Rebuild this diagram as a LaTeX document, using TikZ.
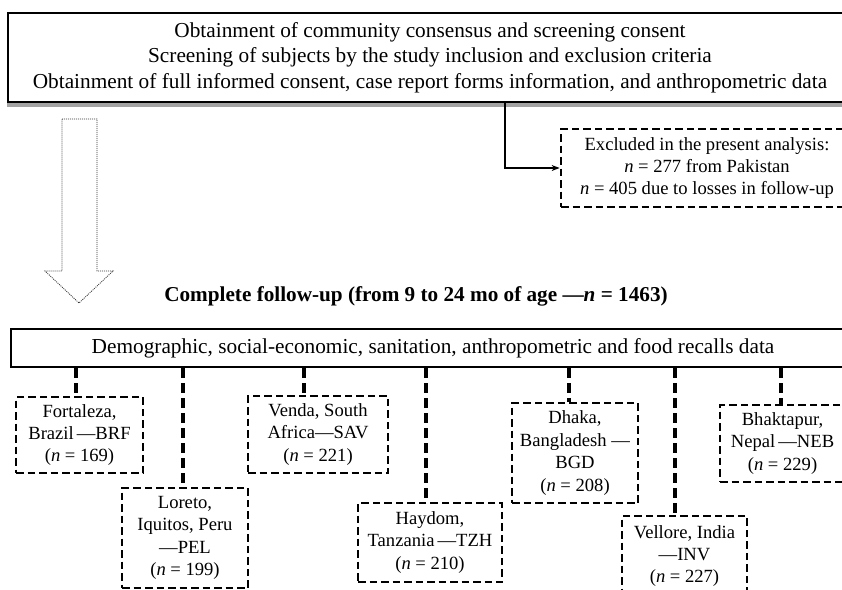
\documentclass[tikz,border=0pt]{standalone}
\usepackage{fontspec}
\setmainfont{Liberation Serif}
\usetikzlibrary{arrows.meta,shadows}
\begin{document}
\begin{tikzpicture}[x=1pt,y=-1pt,
  solidbox/.style={draw, line width=2.8pt, inner sep=0pt, align=center, fill=white},
  dbox/.style={draw, line width=2.8pt, dash pattern=on 7.5pt off 4pt, inner sep=0pt, align=center,
    font=\fontsize{18.6}{22.4}\selectfont},
  conn/.style={line width=3.8pt, dash pattern=on 10pt off 5pt},
  bigtext/.style={font=\fontsize{21.3}{25.5}\selectfont},
  hollow/.style={draw=black!80, line width=0.8pt, dash pattern=on 1pt off 1pt}
]
\useasboundingbox (0,0) rectangle (842,589);
\clip (0,0) rectangle (842,589);

% top box with shadow
\node[solidbox, bigtext, minimum width=844pt, minimum height=89pt,
  drop shadow={shadow xshift=-1.5pt, shadow yshift=-5pt, fill=black!45, opacity=0.8}]
  (top) at (430,57.5) {Obtainment of community consensus and screening consent\\
  Screening of subjects by the study inclusion and exclusion criteria\\
  Obtainment of full informed consent, case report forms information, and anthropometric data};

% excluded box
\node[dbox, minimum width=292pt, minimum height=78pt] (exc) at (707,168)
  {Excluded in the present analysis:\\ \textit{n} = 277 from Pakistan\\ \textit{n} = 405 due to losses in follow-up};
\coordinate (elbow) at (505,0);
\draw[line width=1.1pt, -{Stealth[length=8pt,width=6pt]}] (top.south -| elbow) |- (exc.west);

% hollow dotted arrow
\draw[hollow] (62,119) -- (97,119) -- (97,271) -- (113,271) -- (79,303) -- (45,271) -- (62,271) -- cycle;

% complete follow-up
\node[font=\fontsize{21.2}{25}\selectfont\bfseries] (cfu) at (416,296)
  {Complete follow-up (from 9 to 24 mo of age —\textit{n} = 1463)};

% demographic box
\node[solidbox, bigtext, minimum width=844pt, minimum height=38pt] (dem) at (433,348)
  {Demographic, social-economic, sanitation, anthropometric and food recalls data};

% site boxes
\node[dbox, minimum width=127pt, minimum height=76pt] (fort) at (79.5,435)
  {Fortaleza,\\ Brazil\,—BRF\\ (\textit{n} = 169)};
\node[dbox, minimum width=126pt, minimum height=100pt] (lor) at (185,538)
  {Loreto,\\ Iquitos, Peru\\ —PEL\\ (\textit{n} = 199)};
\node[dbox, minimum width=140pt, minimum height=77pt] (ven) at (318,434.5)
  {Venda, South\\ Africa—SAV\\ (\textit{n} = 221)};
\node[dbox, minimum width=144pt, minimum height=79pt] (hay) at (430,542.5)
  {Haydom,\\ Tanzania\,—TZH\\ (\textit{n} = 210)};
\node[dbox, minimum width=126pt, minimum height=100pt] (dha) at (575,453)
  {Dhaka,\\ Bangladesh —\\ BGD\\ (\textit{n} = 208)};
\node[dbox, minimum width=125pt, minimum height=80pt] (vel) at (684.5,556)
  {Vellore, India\\ —INV\\ (\textit{n} = 227)};
\node[dbox, minimum width=125pt, minimum height=77pt] (bha) at (782.5,443.5)
  {Bhaktapur,\\ Nepal\,—NEB\\ (\textit{n} = 229)};

% connectors
\coordinate (cf) at (76,0);
\coordinate (cl) at (183,0);
\coordinate (cv) at (304,0);
\coordinate (ch) at (426,0);
\coordinate (cd) at (569,0);
\coordinate (ce) at (675,0);
\coordinate (cb) at (781,0);
\draw[conn] (dem.south -| cf) -- (fort.north -| cf);
\draw[conn] (dem.south -| cl) -- (lor.north -| cl);
\draw[conn] (dem.south -| cv) -- (ven.north -| cv);
\draw[conn] (dem.south -| ch) -- (hay.north -| ch);
\draw[conn] (dem.south -| cd) -- (dha.north -| cd);
\draw[conn] (dem.south -| ce) -- (vel.north -| ce);
\draw[conn] (dem.south -| cb) -- (bha.north -| cb);
\end{tikzpicture}
\end{document}
